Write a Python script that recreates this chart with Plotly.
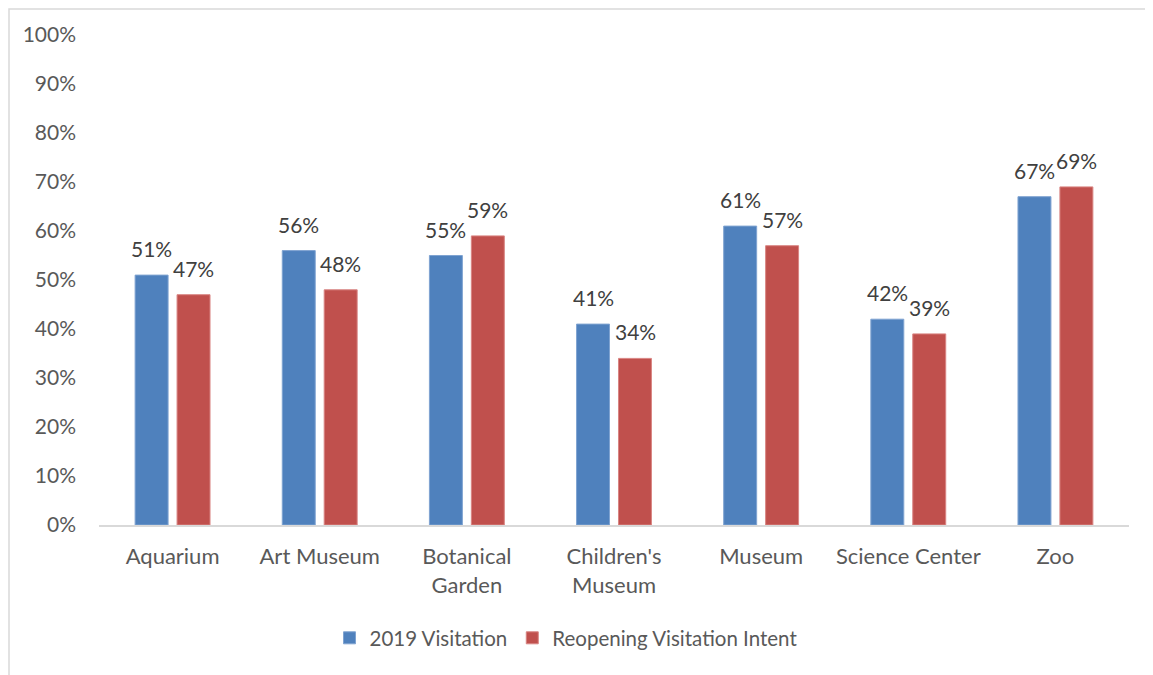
import plotly.graph_objects as go

categories = ["Aquarium", "Art Museum", "Botanical<br>Garden", "Children's<br>Museum",
              "Museum", "Science Center", "Zoo"]
visitation_2019 = [51, 56, 55, 41, 61, 42, 67]
reopening_intent = [47, 48, 59, 34, 57, 39, 69]
y_ticks = [0, 10, 20, 30, 40, 50, 60, 70, 80, 90, 100]
y_tick_labels = [f"{v}%" for v in y_ticks]

FONT = "Lato, 'Open Sans', sans-serif"
FS = 21      # numbers
FS_TXT = 22  # category words
FS_LEG = 20.5

# page body has an 8px margin; compensate so the plot lands where the reference has it
OFF = 8
W, H = 1153 - OFF, 675 - OFF
PL, PR = 99, 1129          # plot area in screenshot px
PT, PB = 35, 525
L = PL - OFF
T = PT - OFF
R = W - L - (PR - PL)
B = H - T - (PB - PT)

fig = go.Figure()
fig.add_trace(go.Bar(
    name="2019 Visitation", x=categories, y=visitation_2019,
    marker=dict(color="#4f81bd", line=dict(color="#7fa3d1", width=1)),
))
fig.add_trace(go.Bar(
    name="Reopening Visitation Intent", x=categories, y=reopening_intent,
    marker=dict(color="#c0504d", line=dict(color="#d98583", width=1)),
))

annotations = []
for series, shift in ((visitation_2019, -21), (reopening_intent, 21)):
    for c, v in zip(categories, series):
        annotations.append(dict(
            x=c, y=v, xref="x", yref="y", text=f"{v}%", showarrow=False,
            xshift=shift, yshift=12, yanchor="bottom", xanchor="center",
            font=dict(size=FS, color="#404040", family=FONT),
        ))

fig.update_layout(
    width=W, height=H,
    margin=dict(l=L, r=R, t=T, b=B),
    paper_bgcolor="white", plot_bgcolor="white",
    barmode="group", bargap=0.43, bargroupgap=0.214,
    font=dict(family=FONT, size=FS, color="#595959"),
    showlegend=True,
    legend=dict(orientation="h", x=(566 - PL) / (PR - PL), xanchor="center",
                y=(PB - 638) / (PB - PT), yanchor="middle",
                font=dict(size=FS_LEG, color="#595959"), itemwidth=30, traceorder="normal"),
    xaxis=dict(showline=True, linecolor="#d9d9d9", linewidth=2, ticks="",
               showgrid=False, ticklabelstandoff=11,
               tickfont=dict(size=FS_TXT, color="#595959")),
    yaxis=dict(range=[0, 100], tickvals=y_ticks, ticktext=y_tick_labels,
               showgrid=False, zeroline=False, showline=False, ticks="",
               ticklabelstandoff=22,
               tickfont=dict(size=FS, color="#595959")),
    annotations=annotations,
    shapes=[dict(type="rect", xref="paper", yref="paper",
                 x0=(9 - PL) / (PR - PL), x1=(1180 - PL) / (PR - PL),
                 y0=(PB - 700) / (PB - PT), y1=(PB - 9) / (PB - PT),
                 line=dict(color="#d9d9d9", width=1.5), fillcolor="rgba(0,0,0,0)", layer="below")],
)

fig.write_html("out.html")
